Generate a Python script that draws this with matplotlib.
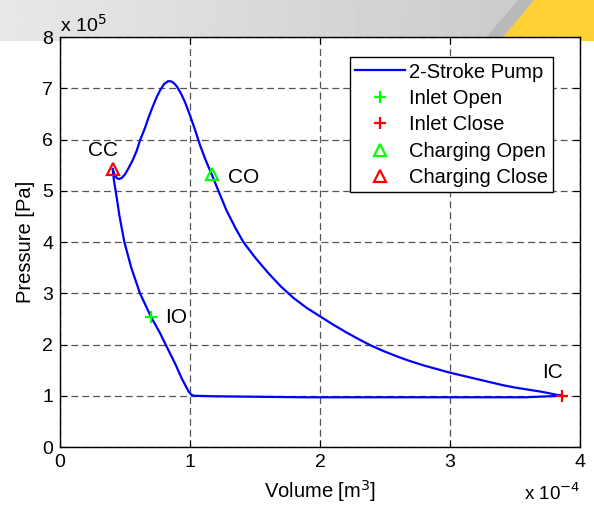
import matplotlib
matplotlib.use("Agg")
import matplotlib.pyplot as plt
import numpy as np
from matplotlib.patches import Polygon

plt.rcParams["font.family"] = ["Liberation Sans", "DejaVu Sans"]

# pump cycle, volume in 1e-4 m^3, pressure in 1e5 Pa (starting at inlet close)
volume = [3.86, 3.58, 1.87, 1.18, 1.03, 1.01, 0.99, 0.936, 0.885, 0.82,
          0.77, 0.70, 0.615, 0.548, 0.495, 0.458, 0.428, 0.415, 0.405,
          0.42, 0.44, 0.456, 0.475, 0.50, 0.525, 0.56, 0.59, 0.615, 0.65,
          0.68, 0.71, 0.744, 0.77, 0.80, 0.833, 0.86, 0.88, 0.90, 0.93,
          0.96, 1.00, 1.04, 1.077, 1.12, 1.167, 1.22, 1.28, 1.35, 1.41,
          1.50, 1.60, 1.70, 1.80, 1.90, 2.00, 2.10, 2.20, 2.30, 2.40,
          2.50, 2.60, 2.70, 2.80, 2.90, 3.00, 3.10, 3.20, 3.30, 3.40,
          3.50, 3.60, 3.70, 3.78, 3.86]
pressure = [1.00, 0.97, 0.97, 0.99, 1.00, 1.02, 1.08, 1.34, 1.63, 1.96,
            2.22, 2.54, 3.00, 3.50, 4.00, 4.50, 5.00, 5.20, 5.43,
            5.30, 5.24, 5.23, 5.25, 5.32, 5.43, 5.60, 5.78, 5.98, 6.20,
            6.42, 6.62, 6.83, 6.96, 7.08, 7.14, 7.13, 7.09, 7.03, 6.90,
            6.74, 6.47, 6.18, 5.89, 5.60, 5.32, 4.99, 4.62, 4.27, 4.00,
            3.70, 3.40, 3.13, 2.90, 2.71, 2.55, 2.39, 2.24, 2.10, 1.97,
            1.86, 1.76, 1.67, 1.59, 1.52, 1.45, 1.39, 1.33, 1.27, 1.21,
            1.16, 1.12, 1.08, 1.04, 1.00]

events = {
    "IO": (0.70, 2.54),
    "IC": (3.86, 1.00),
    "CO": (1.167, 5.32),
    "CC": (0.405, 5.43),
}
event_labels = {
    "IO": (0.896, 2.52),
    "IC": (3.79, 1.46),
    "CO": (1.415, 5.26),
    "CC": (0.331, 5.79),
}

x_ticks = [0, 1, 2, 3, 4]
y_ticks = [0, 1, 2, 3, 4, 5, 6, 7, 8]

W, H = 594, 511
fig = plt.figure(figsize=(W / 100, H / 100), dpi=100)

# header strip behind the plot
band_h = 41
bg = fig.add_axes([0, (H - band_h) / H, 1, band_h / H], zorder=0)
grad = np.linspace(0.91, 0.78, 256)[None, :]
bg.imshow(grad, cmap="gray", vmin=0, vmax=1, aspect="auto",
          extent=[0, W, band_h, 0])
bg.add_patch(Polygon([(483, band_h), (518, 0), (534, 0), (500, band_h)],
                     closed=True, facecolor="#b9b9b9", edgecolor="none"))
bg.add_patch(Polygon([(500, band_h), (534, 0), (W, 0), (W, band_h)],
                     closed=True, facecolor="#fdd133", edgecolor="none"))
bg.set_xlim(0, W)
bg.set_ylim(band_h, 0)
bg.axis("off")

fs = 14.5

ax = fig.add_axes([60 / W, (H - 447) / H, 520 / W, 410 / H], zorder=1)
ax.plot(volume, pressure, color="#0000ff", lw=1.6, label="2-Stroke Pump",
        zorder=3)
ax.plot(*events["IO"], "+", color="#00ff00", ms=8, mew=1.6,
        label="Inlet Open", zorder=4)
ax.plot(*events["IC"], "+", color="#ff0000", ms=8, mew=1.6,
        label="Inlet Close", zorder=4)
ax.plot(*events["CO"], "^", mfc="none", mec="#00ff00", ms=8.5, mew=1.6,
        label="Charging Open", zorder=4)
ax.plot(*events["CC"], "^", mfc="none", mec="#ff0000", ms=8.5, mew=1.6,
        label="Charging Close", zorder=4)

for name, (tx, ty) in event_labels.items():
    ax.text(tx, ty, name, ha="center", va="center", fontsize=15)

ax.set_xlim(0, 4)
ax.set_ylim(0, 8)
ax.set_xticks(x_ticks)
ax.set_yticks(y_ticks)
ax.tick_params(direction="in", top=True, right=True, length=5, width=0.8,
               labelsize=14, pad=5)
ax.grid(True, color="#555555", ls=(0, (5.5, 3.2)), lw=0.9)
for sp in ax.spines.values():
    sp.set_linewidth(1.0)

ax.set_xlabel("Volume [m$^3$]", fontsize=fs, labelpad=5)
ax.set_ylabel("Pressure [Pa]", fontsize=fs, labelpad=5)
ax.text(0.0, 1.003, "x 10$^{5}$", transform=ax.transAxes, ha="left",
        va="bottom", fontsize=14)
ax.text(1.0, -0.129, "x 10$^{-4}$", transform=ax.transAxes, ha="right",
        va="baseline", fontsize=13.5)

leg = ax.legend(loc="upper right", bbox_to_anchor=(0.948, 0.95),
                borderaxespad=0, fontsize=fs, fancybox=False,
                edgecolor="black", framealpha=1, handlelength=2.5,
                handletextpad=0.2, labelspacing=0.37, borderpad=0.25)
leg.get_frame().set_linewidth(1.0)

fig.savefig("out.png", dpi=100)
